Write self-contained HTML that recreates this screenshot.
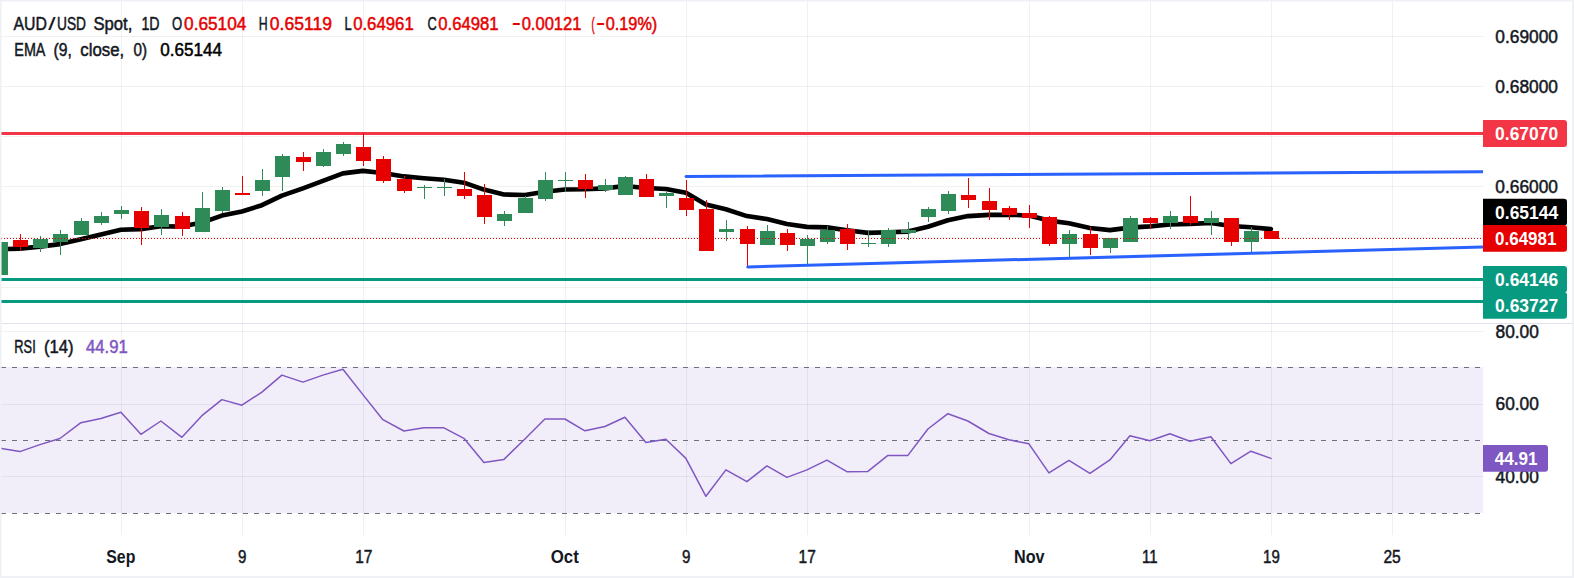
<!DOCTYPE html>
<html lang="en"><head><meta charset="utf-8"><title>AUD/USD Spot, 1D</title>
<style>html,body{margin:0;padding:0;background:#fff}svg{display:block}text{white-space:pre}</style></head>
<body>
<svg width="1574" height="578" viewBox="0 0 1574 578" font-family="'Liberation Sans', sans-serif" shape-rendering="crispEdges">
<rect width="1574" height="578" fill="#ffffff"/>
<rect x="0" y="367" width="1483" height="146" fill="#f2eef9"/>
<rect x="121" y="0" width="1" height="323" fill="#2a2e39" fill-opacity="0.065"/>
<rect x="121" y="324" width="1" height="211" fill="#2a2e39" fill-opacity="0.07"/>
<rect x="242" y="0" width="1" height="323" fill="#2a2e39" fill-opacity="0.065"/>
<rect x="242" y="324" width="1" height="211" fill="#2a2e39" fill-opacity="0.07"/>
<rect x="363" y="0" width="1" height="323" fill="#2a2e39" fill-opacity="0.065"/>
<rect x="363" y="324" width="1" height="211" fill="#2a2e39" fill-opacity="0.07"/>
<rect x="565" y="0" width="1" height="323" fill="#2a2e39" fill-opacity="0.065"/>
<rect x="565" y="324" width="1" height="211" fill="#2a2e39" fill-opacity="0.07"/>
<rect x="686" y="0" width="1" height="323" fill="#2a2e39" fill-opacity="0.065"/>
<rect x="686" y="324" width="1" height="211" fill="#2a2e39" fill-opacity="0.07"/>
<rect x="807" y="0" width="1" height="323" fill="#2a2e39" fill-opacity="0.065"/>
<rect x="807" y="324" width="1" height="211" fill="#2a2e39" fill-opacity="0.07"/>
<rect x="1029" y="0" width="1" height="323" fill="#2a2e39" fill-opacity="0.065"/>
<rect x="1029" y="324" width="1" height="211" fill="#2a2e39" fill-opacity="0.07"/>
<rect x="1150" y="0" width="1" height="323" fill="#2a2e39" fill-opacity="0.065"/>
<rect x="1150" y="324" width="1" height="211" fill="#2a2e39" fill-opacity="0.07"/>
<rect x="1271" y="0" width="1" height="323" fill="#2a2e39" fill-opacity="0.065"/>
<rect x="1271" y="324" width="1" height="211" fill="#2a2e39" fill-opacity="0.07"/>
<rect x="1392" y="0" width="1" height="323" fill="#2a2e39" fill-opacity="0.065"/>
<rect x="1392" y="324" width="1" height="211" fill="#2a2e39" fill-opacity="0.07"/>
<rect x="0" y="36" width="1483" height="1" fill="#2a2e39" fill-opacity="0.065"/>
<rect x="0" y="86" width="1483" height="1" fill="#2a2e39" fill-opacity="0.065"/>
<rect x="0" y="136" width="1483" height="1" fill="#2a2e39" fill-opacity="0.065"/>
<rect x="0" y="186" width="1483" height="1" fill="#2a2e39" fill-opacity="0.065"/>
<rect x="0" y="237" width="1483" height="1" fill="#2a2e39" fill-opacity="0.065"/>
<rect x="0" y="287" width="1483" height="1" fill="#2a2e39" fill-opacity="0.065"/>
<rect x="0" y="331" width="1483" height="1" fill="#2a2e39" fill-opacity="0.07"/>
<rect x="0" y="404" width="1483" height="1" fill="#2a2e39" fill-opacity="0.07"/>
<rect x="0" y="476" width="1483" height="1" fill="#2a2e39" fill-opacity="0.07"/>
<rect x="0" y="323" width="1574" height="1" fill="#e0e3eb"/>
<path d="M1 367.5H1483" stroke="#6e717d" stroke-width="1" stroke-dasharray="5 6" fill="none"/>
<path d="M1 440.5H1483" stroke="#6e717d" stroke-width="1" stroke-dasharray="5 6" fill="none"/>
<path d="M1 513.5H1483" stroke="#6e717d" stroke-width="1" stroke-dasharray="5 6" fill="none"/>
<rect x="0" y="132" width="1483" height="3" fill="#f23645"/>
<rect x="0" y="278" width="1483" height="3" fill="#089981"/>
<rect x="0" y="300" width="1483" height="3" fill="#089981"/>
<polyline points="-0.1,249.3 19.9,248.6 39.9,246.6 59.9,244.1 80.9,239.2 100.9,234.6 120.9,229.7 140.9,229.1 160.9,226.3 181.9,226.6 201.9,222.6 221.9,215.6 241.9,211.5 261.9,205.2 281.9,195.7 302.9,188.3 322.9,180.9 342.9,173.4 362.9,170.9 382.9,173.0 403.9,176.4 423.9,178.2 443.9,179.8 463.9,182.7 483.9,189.6 503.9,194.5 524.9,195.0 544.9,191.8 564.9,189.5 584.9,189.3 604.9,188.4 624.9,186.0 645.9,188.0 665.9,189.0 685.9,192.7 705.9,204.6 725.9,209.3 746.9,216.1 766.9,219.1 786.9,224.0 806.9,226.9 826.9,227.4 846.9,230.2 867.9,232.9 887.9,232.3 907.9,231.6 927.9,226.7 947.9,220.2 967.9,216.1 988.9,214.9 1008.9,214.7 1028.9,215.5 1048.9,220.6 1068.9,223.2 1089.9,228.0 1109.9,230.1 1129.9,227.6 1149.9,226.4 1169.9,224.5 1189.9,223.9 1210.9,223.0 1230.9,226.0 1250.9,227.2 1270.9,229.1" fill="none" stroke="#000" stroke-width="4.6" stroke-linejoin="round" stroke-linecap="round" shape-rendering="geometricPrecision"/>
<rect x="0" y="242" width="1" height="33" fill="#2e8b57"/>
<rect x="-7" y="242" width="15" height="33" fill="#2e8b57"/>
<rect x="20" y="234" width="1" height="17" fill="#e60000"/>
<rect x="13" y="240" width="15" height="7" fill="#e60000"/>
<rect x="40" y="236" width="1" height="16" fill="#2e8b57"/>
<rect x="33" y="239" width="15" height="9" fill="#2e8b57"/>
<rect x="60" y="230" width="1" height="25" fill="#2e8b57"/>
<rect x="53" y="234" width="15" height="8" fill="#2e8b57"/>
<rect x="81" y="218" width="1" height="17" fill="#2e8b57"/>
<rect x="74" y="221" width="15" height="14" fill="#2e8b57"/>
<rect x="101" y="212" width="1" height="13" fill="#2e8b57"/>
<rect x="94" y="216" width="15" height="7" fill="#2e8b57"/>
<rect x="121" y="206" width="1" height="13" fill="#2e8b57"/>
<rect x="114" y="210" width="15" height="4" fill="#2e8b57"/>
<rect x="141" y="207" width="1" height="38" fill="#e60000"/>
<rect x="134" y="211" width="15" height="17" fill="#e60000"/>
<rect x="161" y="209" width="1" height="26" fill="#2e8b57"/>
<rect x="154" y="215" width="15" height="12" fill="#2e8b57"/>
<rect x="182" y="212" width="1" height="24" fill="#e60000"/>
<rect x="175" y="216" width="15" height="13" fill="#e60000"/>
<rect x="202" y="192" width="1" height="40" fill="#2e8b57"/>
<rect x="195" y="208" width="15" height="24" fill="#2e8b57"/>
<rect x="222" y="187" width="1" height="26" fill="#2e8b57"/>
<rect x="215" y="190" width="15" height="21" fill="#2e8b57"/>
<rect x="242" y="176" width="1" height="19" fill="#e60000"/>
<rect x="235" y="193" width="15" height="2" fill="#e60000"/>
<rect x="262" y="169" width="1" height="27" fill="#2e8b57"/>
<rect x="255" y="180" width="15" height="11" fill="#2e8b57"/>
<rect x="282" y="154" width="1" height="37" fill="#2e8b57"/>
<rect x="275" y="156" width="15" height="21" fill="#2e8b57"/>
<rect x="303" y="152" width="1" height="19" fill="#e60000"/>
<rect x="296" y="157" width="15" height="5" fill="#e60000"/>
<rect x="323" y="149" width="1" height="18" fill="#2e8b57"/>
<rect x="316" y="152" width="15" height="14" fill="#2e8b57"/>
<rect x="343" y="142" width="1" height="14" fill="#2e8b57"/>
<rect x="336" y="144" width="15" height="10" fill="#2e8b57"/>
<rect x="363" y="133" width="1" height="33" fill="#e60000"/>
<rect x="356" y="147" width="15" height="14" fill="#e60000"/>
<rect x="383" y="156" width="1" height="27" fill="#e60000"/>
<rect x="376" y="159" width="15" height="22" fill="#e60000"/>
<rect x="404" y="176" width="1" height="17" fill="#e60000"/>
<rect x="397" y="179" width="15" height="12" fill="#e60000"/>
<rect x="424" y="185" width="1" height="14" fill="#2e8b57"/>
<rect x="417" y="187" width="15" height="1" fill="#2e8b57"/>
<rect x="444" y="179" width="1" height="17" fill="#2e8b57"/>
<rect x="437" y="187" width="15" height="1" fill="#2e8b57"/>
<rect x="464" y="172" width="1" height="27" fill="#e60000"/>
<rect x="457" y="189" width="15" height="7" fill="#e60000"/>
<rect x="484" y="184" width="1" height="40" fill="#e60000"/>
<rect x="477" y="195" width="15" height="22" fill="#e60000"/>
<rect x="504" y="211" width="1" height="15" fill="#2e8b57"/>
<rect x="497" y="214" width="15" height="7" fill="#2e8b57"/>
<rect x="525" y="196" width="1" height="17" fill="#2e8b57"/>
<rect x="518" y="198" width="15" height="15" fill="#2e8b57"/>
<rect x="545" y="172" width="1" height="29" fill="#2e8b57"/>
<rect x="538" y="180" width="15" height="19" fill="#2e8b57"/>
<rect x="565" y="172" width="1" height="20" fill="#2e8b57"/>
<rect x="558" y="180" width="15" height="1" fill="#2e8b57"/>
<rect x="585" y="174" width="1" height="24" fill="#e60000"/>
<rect x="578" y="180" width="15" height="9" fill="#e60000"/>
<rect x="605" y="179" width="1" height="13" fill="#2e8b57"/>
<rect x="598" y="185" width="15" height="5" fill="#2e8b57"/>
<rect x="625" y="176" width="1" height="19" fill="#2e8b57"/>
<rect x="618" y="177" width="15" height="18" fill="#2e8b57"/>
<rect x="646" y="174" width="1" height="23" fill="#e60000"/>
<rect x="639" y="179" width="15" height="18" fill="#e60000"/>
<rect x="666" y="192" width="1" height="16" fill="#2e8b57"/>
<rect x="659" y="193" width="15" height="3" fill="#2e8b57"/>
<rect x="686" y="180" width="1" height="36" fill="#e60000"/>
<rect x="679" y="198" width="15" height="12" fill="#e60000"/>
<rect x="706" y="200" width="1" height="51" fill="#e60000"/>
<rect x="699" y="209" width="15" height="42" fill="#e60000"/>
<rect x="726" y="220" width="1" height="21" fill="#2e8b57"/>
<rect x="719" y="229" width="15" height="3" fill="#2e8b57"/>
<rect x="747" y="226" width="1" height="41" fill="#e60000"/>
<rect x="740" y="229" width="15" height="15" fill="#e60000"/>
<rect x="767" y="225" width="1" height="20" fill="#2e8b57"/>
<rect x="760" y="231" width="15" height="14" fill="#2e8b57"/>
<rect x="787" y="229" width="1" height="22" fill="#e60000"/>
<rect x="780" y="233" width="15" height="12" fill="#e60000"/>
<rect x="807" y="235" width="1" height="30" fill="#2e8b57"/>
<rect x="800" y="239" width="15" height="7" fill="#2e8b57"/>
<rect x="827" y="226" width="1" height="18" fill="#2e8b57"/>
<rect x="820" y="230" width="15" height="12" fill="#2e8b57"/>
<rect x="847" y="224" width="1" height="26" fill="#e60000"/>
<rect x="840" y="229" width="15" height="15" fill="#e60000"/>
<rect x="868" y="230" width="1" height="17" fill="#2e8b57"/>
<rect x="861" y="243" width="15" height="1" fill="#2e8b57"/>
<rect x="888" y="228" width="1" height="19" fill="#2e8b57"/>
<rect x="881" y="230" width="15" height="14" fill="#2e8b57"/>
<rect x="908" y="222" width="1" height="18" fill="#2e8b57"/>
<rect x="901" y="230" width="15" height="3" fill="#2e8b57"/>
<rect x="928" y="207" width="1" height="15" fill="#2e8b57"/>
<rect x="921" y="209" width="15" height="8" fill="#2e8b57"/>
<rect x="948" y="191" width="1" height="23" fill="#2e8b57"/>
<rect x="941" y="194" width="15" height="17" fill="#2e8b57"/>
<rect x="968" y="178" width="1" height="30" fill="#e60000"/>
<rect x="961" y="195" width="15" height="5" fill="#e60000"/>
<rect x="989" y="188" width="1" height="32" fill="#e60000"/>
<rect x="982" y="201" width="15" height="9" fill="#e60000"/>
<rect x="1009" y="206" width="1" height="14" fill="#e60000"/>
<rect x="1002" y="208" width="15" height="7" fill="#e60000"/>
<rect x="1029" y="205" width="1" height="23" fill="#e60000"/>
<rect x="1022" y="213" width="15" height="5" fill="#e60000"/>
<rect x="1049" y="216" width="1" height="30" fill="#e60000"/>
<rect x="1042" y="217" width="15" height="27" fill="#e60000"/>
<rect x="1069" y="230" width="1" height="27" fill="#2e8b57"/>
<rect x="1062" y="234" width="15" height="10" fill="#2e8b57"/>
<rect x="1090" y="227" width="1" height="28" fill="#e60000"/>
<rect x="1083" y="234" width="15" height="14" fill="#e60000"/>
<rect x="1110" y="238" width="1" height="15" fill="#2e8b57"/>
<rect x="1103" y="238" width="15" height="10" fill="#2e8b57"/>
<rect x="1130" y="216" width="1" height="26" fill="#2e8b57"/>
<rect x="1123" y="218" width="15" height="24" fill="#2e8b57"/>
<rect x="1150" y="217" width="1" height="12" fill="#e60000"/>
<rect x="1143" y="218" width="15" height="5" fill="#e60000"/>
<rect x="1170" y="211" width="1" height="18" fill="#2e8b57"/>
<rect x="1163" y="216" width="15" height="7" fill="#2e8b57"/>
<rect x="1190" y="196" width="1" height="29" fill="#e60000"/>
<rect x="1183" y="216" width="15" height="7" fill="#e60000"/>
<rect x="1211" y="211" width="1" height="24" fill="#2e8b57"/>
<rect x="1204" y="218" width="15" height="5" fill="#2e8b57"/>
<rect x="1231" y="218" width="1" height="28" fill="#e60000"/>
<rect x="1224" y="218" width="15" height="24" fill="#e60000"/>
<rect x="1251" y="227" width="1" height="27" fill="#2e8b57"/>
<rect x="1244" y="231" width="15" height="11" fill="#2e8b57"/>
<rect x="1271" y="231" width="1" height="8" fill="#e60000"/>
<rect x="1264" y="231" width="15" height="8" fill="#e60000"/>
<path d="M686 176.5L1483 171.7" stroke="#2962ff" stroke-width="3" stroke-linecap="round" fill="none" shape-rendering="geometricPrecision"/>
<path d="M747.7 267L1483 246.9" stroke="#2962ff" stroke-width="3" stroke-linecap="round" fill="none" shape-rendering="geometricPrecision"/>
<path d="M1 238.5H1483" stroke="#e60000" stroke-width="1" stroke-dasharray="1 2" fill="none"/>
<polyline points="-0.1,448.3 19.9,451.6 39.9,444.6 59.9,438.5 80.9,422.7 100.9,418.5 120.9,412.2 140.9,434.3 160.9,421.0 181.9,437.3 201.9,415.7 221.9,399.6 241.9,405.2 261.9,392.1 281.9,375.1 302.9,382.1 322.9,375.1 342.9,369.3 362.9,394.6 382.9,419.7 403.9,431.0 423.9,427.8 443.9,427.8 463.9,438.3 483.9,462.4 503.9,459.4 524.9,439.0 544.9,419.0 564.9,419.0 584.9,430.8 604.9,426.5 624.9,417.2 645.9,442.6 665.9,439.3 685.9,458.4 705.9,496.3 725.9,469.9 746.9,481.7 766.9,465.9 786.9,477.4 806.9,469.9 826.9,460.1 846.9,471.7 867.9,471.4 887.9,455.4 907.9,455.4 927.9,429.0 947.9,413.7 967.9,421.0 988.9,433.5 1008.9,439.8 1028.9,443.8 1048.9,472.9 1068.9,460.4 1089.9,473.4 1109.9,459.9 1129.9,435.8 1149.9,440.8 1169.9,433.8 1189.9,441.3 1210.9,436.7 1230.9,463.6 1250.9,451.2 1270.9,458.4" fill="none" stroke="#7e57c2" stroke-width="1.5" stroke-linejoin="round" stroke-linecap="round" shape-rendering="geometricPrecision"/>
<rect x="1483" y="0" width="91" height="323" fill="#fff"/>
<rect x="1483" y="324" width="91" height="254" fill="#fff"/>
<text x="1495.35" y="42.90" font-size="18" fill="#131722" stroke="#131722" stroke-width="0.5" stroke-linejoin="round" textLength="62.57" lengthAdjust="spacingAndGlyphs">0.69000</text>
<text x="1495.35" y="92.90" font-size="18" fill="#131722" stroke="#131722" stroke-width="0.5" stroke-linejoin="round" textLength="62.57" lengthAdjust="spacingAndGlyphs">0.68000</text>
<text x="1495.35" y="193.40" font-size="18" fill="#131722" stroke="#131722" stroke-width="0.5" stroke-linejoin="round" textLength="62.57" lengthAdjust="spacingAndGlyphs">0.66000</text>
<text x="1495.55" y="337.95" font-size="18" fill="#131722" stroke="#131722" stroke-width="0.5" stroke-linejoin="round" textLength="43.34" lengthAdjust="spacingAndGlyphs">80.00</text>
<text x="1495.55" y="410.00" font-size="18" fill="#131722" stroke="#131722" stroke-width="0.5" stroke-linejoin="round" textLength="43.34" lengthAdjust="spacingAndGlyphs">60.00</text>
<text x="1495.55" y="482.60" font-size="18" fill="#131722" stroke="#131722" stroke-width="0.5" stroke-linejoin="round" textLength="43.34" lengthAdjust="spacingAndGlyphs">40.00</text>
<path d="M1483 120H1564Q1567 120 1567 123V144Q1567 147 1564 147H1483Z" fill="#f23645" shape-rendering="geometricPrecision"/>
<path d="M1483 198.8H1564Q1567 198.8 1567 201.8V222.5Q1567 225.5 1564 225.5H1483Z" fill="#000000" shape-rendering="geometricPrecision"/>
<path d="M1483 225H1564Q1567 225 1567 228V248.8Q1567 251.8 1564 251.8H1483Z" fill="#e60000" shape-rendering="geometricPrecision"/>
<path d="M1483 266H1564Q1567 266 1567 269V289.5Q1567 292.5 1564 292.5H1483Z" fill="#089981" shape-rendering="geometricPrecision"/>
<path d="M1483 292H1564Q1567 292 1567 295V315.8Q1567 318.8 1564 318.8H1483Z" fill="#089981" shape-rendering="geometricPrecision"/>
<path d="M1483 445H1545Q1548 445 1548 448V468.7Q1548 471.7 1545 471.7H1483Z" fill="#7e57c2" shape-rendering="geometricPrecision"/>
<text x="1495.10" y="139.90" font-size="18" fill="#fff" font-weight="bold" textLength="63.07" lengthAdjust="spacingAndGlyphs">0.67070</text>
<text x="1495.10" y="219.00" font-size="18" fill="#fff" font-weight="bold" textLength="63.07" lengthAdjust="spacingAndGlyphs">0.65144</text>
<text x="1495.10" y="244.80" font-size="18" fill="#fff" font-weight="bold" textLength="61.27" lengthAdjust="spacingAndGlyphs">0.64981</text>
<text x="1495.10" y="285.90" font-size="18" fill="#fff" font-weight="bold" textLength="63.07" lengthAdjust="spacingAndGlyphs">0.64146</text>
<text x="1495.10" y="311.90" font-size="18" fill="#fff" font-weight="bold" textLength="63.07" lengthAdjust="spacingAndGlyphs">0.63727</text>
<text x="1494.80" y="465.00" font-size="18" fill="#fff" font-weight="bold" textLength="42.74" lengthAdjust="spacingAndGlyphs">44.91</text>
<text><tspan x="13.55" y="29.90" font-size="18" fill="#131722" stroke="#131722" stroke-width="0.5" stroke-linejoin="round" textLength="33.40" lengthAdjust="spacingAndGlyphs">AUD</tspan><tspan x="48.28" y="29.90" font-size="18" fill="#131722" stroke="#131722" stroke-width="0.15" stroke-linejoin="round" textLength="7.31" lengthAdjust="spacingAndGlyphs">/</tspan><tspan x="57.05" y="29.90" font-size="18" fill="#131722" stroke="#131722" stroke-width="0.5" stroke-linejoin="round" textLength="29.00" lengthAdjust="spacingAndGlyphs">USD</tspan><tspan fill="none" stroke="none" font-size="1"> </tspan><tspan x="93.45" y="29.90" font-size="18" fill="#131722" stroke="#131722" stroke-width="0.5" stroke-linejoin="round" textLength="38.93" lengthAdjust="spacingAndGlyphs">Spot,</tspan><tspan fill="none" stroke="none" font-size="1"> </tspan><tspan x="141.45" y="29.90" font-size="18" fill="#131722" stroke="#131722" stroke-width="0.5" stroke-linejoin="round" textLength="18.11" lengthAdjust="spacingAndGlyphs">1D</tspan><tspan fill="none" stroke="none" font-size="1">  </tspan><tspan x="172.05" y="29.90" font-size="18" fill="#131722" stroke="#131722" stroke-width="0.5" stroke-linejoin="round" textLength="10.20" lengthAdjust="spacingAndGlyphs">O</tspan><tspan x="184.05" y="29.90" font-size="18" fill="#e60000" stroke="#e60000" stroke-width="0.5" stroke-linejoin="round" textLength="62.27" lengthAdjust="spacingAndGlyphs">0.65104</tspan><tspan fill="none" stroke="none" font-size="1">  </tspan><tspan x="258.85" y="29.90" font-size="18" fill="#131722" stroke="#131722" stroke-width="0.5" stroke-linejoin="round" textLength="8.90" lengthAdjust="spacingAndGlyphs">H</tspan><tspan x="269.85" y="29.90" font-size="18" fill="#e60000" stroke="#e60000" stroke-width="0.5" stroke-linejoin="round" textLength="62.03" lengthAdjust="spacingAndGlyphs">0.65119</tspan><tspan fill="none" stroke="none" font-size="1">  </tspan><tspan x="344.55" y="29.90" font-size="18" fill="#131722" stroke="#131722" stroke-width="0.5" stroke-linejoin="round" textLength="7.21" lengthAdjust="spacingAndGlyphs">L</tspan><tspan x="353.15" y="29.90" font-size="18" fill="#e60000" stroke="#e60000" stroke-width="0.5" stroke-linejoin="round" textLength="60.57" lengthAdjust="spacingAndGlyphs">0.64961</tspan><tspan fill="none" stroke="none" font-size="1">  </tspan><tspan x="427.45" y="29.90" font-size="18" fill="#131722" stroke="#131722" stroke-width="0.5" stroke-linejoin="round" textLength="9.30" lengthAdjust="spacingAndGlyphs">C</tspan><tspan x="438.25" y="29.90" font-size="18" fill="#e60000" stroke="#e60000" stroke-width="0.5" stroke-linejoin="round" textLength="60.17" lengthAdjust="spacingAndGlyphs">0.64981</tspan><tspan fill="none" stroke="none" font-size="1">  </tspan><tspan x="512.30" y="29.90" font-size="18" fill="#e60000" font-weight="bold" textLength="8.01" lengthAdjust="spacingAndGlyphs">−</tspan><tspan x="521.65" y="29.90" font-size="18" fill="#e60000" stroke="#e60000" stroke-width="0.5" stroke-linejoin="round" textLength="59.87" lengthAdjust="spacingAndGlyphs">0.00121</tspan><tspan fill="none" stroke="none" font-size="1"> </tspan><tspan x="591.45" y="29.90" font-size="18" fill="#e60000" stroke="#e60000" stroke-width="0.5" stroke-linejoin="round" textLength="3.10" lengthAdjust="spacingAndGlyphs">(</tspan><tspan x="596.40" y="29.90" font-size="18" fill="#e60000" font-weight="bold" textLength="8.01" lengthAdjust="spacingAndGlyphs">−</tspan><tspan x="605.75" y="29.90" font-size="18" fill="#e60000" stroke="#e60000" stroke-width="0.5" stroke-linejoin="round" textLength="51.53" lengthAdjust="spacingAndGlyphs">0.19%)</tspan></text>
<text><tspan x="14.35" y="55.80" font-size="18" fill="#131722" stroke="#131722" stroke-width="0.5" stroke-linejoin="round" textLength="31.10" lengthAdjust="spacingAndGlyphs">EMA</tspan><tspan fill="none" stroke="none" font-size="1"> </tspan><tspan x="53.55" y="55.80" font-size="18" fill="#131722" stroke="#131722" stroke-width="0.5" stroke-linejoin="round" textLength="18.31" lengthAdjust="spacingAndGlyphs">(9,</tspan><tspan fill="none" stroke="none" font-size="1"> </tspan><tspan x="80.25" y="55.80" font-size="18" fill="#131722" stroke="#131722" stroke-width="0.5" stroke-linejoin="round" textLength="43.92" lengthAdjust="spacingAndGlyphs">close,</tspan><tspan fill="none" stroke="none" font-size="1"> </tspan><tspan x="133.55" y="55.80" font-size="18" fill="#131722" stroke="#131722" stroke-width="0.5" stroke-linejoin="round" textLength="13.50" lengthAdjust="spacingAndGlyphs">0)</tspan><tspan fill="none" stroke="none" font-size="1">  </tspan><tspan x="160.25" y="55.80" font-size="18" fill="#000" stroke="#000" stroke-width="0.5" stroke-linejoin="round" textLength="61.77" lengthAdjust="spacingAndGlyphs">0.65144</tspan></text>
<text><tspan x="14.35" y="352.80" font-size="18" fill="#131722" stroke="#131722" stroke-width="0.5" stroke-linejoin="round" textLength="21.40" lengthAdjust="spacingAndGlyphs">RSI</tspan><tspan fill="none" stroke="none" font-size="1"> </tspan><tspan x="44.05" y="352.80" font-size="18" fill="#131722" stroke="#131722" stroke-width="0.5" stroke-linejoin="round" textLength="29.61" lengthAdjust="spacingAndGlyphs">(14)</tspan><tspan fill="none" stroke="none" font-size="1">  </tspan><tspan x="86.05" y="352.80" font-size="18" fill="#7e57c2" stroke="#7e57c2" stroke-width="0.5" stroke-linejoin="round" textLength="41.74" lengthAdjust="spacingAndGlyphs">44.91</tspan></text>
<text x="106.30" y="562.90" font-size="18" fill="#131722" font-weight="bold" textLength="29.01" lengthAdjust="spacingAndGlyphs">Sep</text>
<text x="237.95" y="562.90" font-size="18" fill="#131722" stroke="#131722" stroke-width="0.5" stroke-linejoin="round" textLength="8.41" lengthAdjust="spacingAndGlyphs">9</text>
<text x="355.15" y="562.90" font-size="18" fill="#131722" stroke="#131722" stroke-width="0.5" stroke-linejoin="round" textLength="17.22" lengthAdjust="spacingAndGlyphs">17</text>
<text x="550.70" y="562.90" font-size="18" fill="#131722" font-weight="bold" textLength="28.11" lengthAdjust="spacingAndGlyphs">Oct</text>
<text x="682.05" y="562.90" font-size="18" fill="#131722" stroke="#131722" stroke-width="0.5" stroke-linejoin="round" textLength="8.41" lengthAdjust="spacingAndGlyphs">9</text>
<text x="798.55" y="562.90" font-size="18" fill="#131722" stroke="#131722" stroke-width="0.5" stroke-linejoin="round" textLength="17.22" lengthAdjust="spacingAndGlyphs">17</text>
<text x="1014.00" y="562.90" font-size="18" fill="#131722" font-weight="bold" textLength="30.60" lengthAdjust="spacingAndGlyphs">Nov</text>
<text x="1141.95" y="562.90" font-size="18" fill="#131722" stroke="#131722" stroke-width="0.5" stroke-linejoin="round" textLength="15.59" lengthAdjust="spacingAndGlyphs">11</text>
<text x="1263.05" y="562.90" font-size="18" fill="#131722" stroke="#131722" stroke-width="0.5" stroke-linejoin="round" textLength="16.72" lengthAdjust="spacingAndGlyphs">19</text>
<text x="1383.45" y="562.90" font-size="18" fill="#131722" stroke="#131722" stroke-width="0.5" stroke-linejoin="round" textLength="17.32" lengthAdjust="spacingAndGlyphs">25</text>
<rect x="0" y="0" width="1" height="578" fill="#eff1f6"/>
<rect x="1" y="1" width="1" height="575" fill="#eff1f6" fill-opacity="0.55"/>
<rect x="1" y="0" width="1573" height="1" fill="#eff1f6"/>
<rect x="2" y="1" width="1570" height="1" fill="#eff1f6" fill-opacity="0.6"/>
<rect x="1572" y="1" width="2" height="577" fill="#eff1f6"/>
<rect x="1" y="576" width="1571" height="2" fill="#eff1f6"/>
</svg>
</body></html>
